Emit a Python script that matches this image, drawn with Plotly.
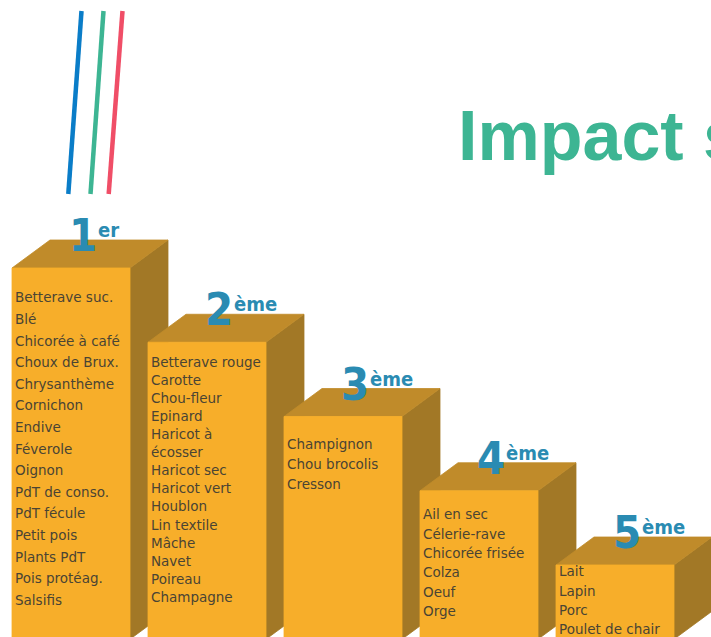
import plotly.graph_objects as go

# ---------------- data ----------------
rank_positions = [1, 2, 3, 4, 5]
rank_numbers = ["1", "2", "3", "4", "5"]
rank_suffixes = ["er", "ème", "ème", "ème", "ème"]
podium_levels = [5, 4, 3, 2, 1]

items_rank1 = ["Betterave suc.", "Blé", "Chicorée à café", "Choux de Brux.", "Chrysanthème",
               "Cornichon", "Endive", "Féverole", "Oignon", "PdT de conso.", "PdT fécule",
               "Petit pois", "Plants PdT", "Pois protéag.", "Salsifis"]
items_rank2 = ["Betterave rouge", "Carotte", "Chou-fleur", "Epinard", "Haricot à", "écosser",
               "Haricot sec", "Haricot vert", "Houblon", "Lin textile", "Mâche", "Navet",
               "Poireau", "Champagne"]
items_rank3 = ["Champignon", "Chou brocolis", "Cresson"]
items_rank4 = ["Ail en sec", "Célerie-rave", "Chicorée frisée", "Colza", "Oeuf", "Orge"]
items_rank5 = ["Lait", "Lapin", "Porc", "Poulet de chair"]
items_by_rank = [items_rank1, items_rank2, items_rank3, items_rank4, items_rank5]

title_text = "Impact s"

# ---------------- layout / style ----------------
W, H = 711, 637
X_RANGE = [0.47794, 5.70588]
Y_RANGE = [0.0303, 8.6094]
PX_X = W / (X_RANGE[1] - X_RANGE[0])   # pixels per x unit
PX_Y = H / (Y_RANGE[1] - Y_RANGE[0])   # pixels per y unit

BAR_W = 118 / PX_X
DX = 38 / PX_X
DY = 28 / PX_Y

FRONT = "#F7AE2A"
TOP = "#C08B2A"
SIDE = "#A27826"
LABEL = "#2A8BB2"
TEXT = "#4A4434"
LABEL_FONT = "DejaVu Sans Condensed, Liberation Sans Narrow, DejaVu Sans"

text_first_px = [31, 21, 29.5, 25, 8]
text_step_px = [21.6, 18.1, 20, 19.4, 19.3]
text_pad_px = 3

fig = go.Figure()

def poly(xs, ys, color):
    fig.add_trace(go.Scatter(x=xs + [xs[0]], y=ys + [ys[0]], mode="lines", fill="toself",
                             fillcolor=color, line=dict(color=color, width=0.8),
                             hoverinfo="skip", showlegend=False))

for r, v in zip(rank_positions, podium_levels):
    xl, xr = r - BAR_W / 2, r + BAR_W / 2
    poly([xr, xr, xr + DX, xr + DX], [0, v, v + DY, DY], SIDE)
    poly([xl, xr, xr + DX, xl + DX], [v, v, v + DY, v + DY], TOP)
    poly([xl, xr, xr, xl], [0, 0, v, v], FRONT)

for r, v, items, f0, st in zip(rank_positions, podium_levels, items_by_rank, text_first_px, text_step_px):
    xl = r - BAR_W / 2 + text_pad_px / PX_X
    ys = [v - (f0 + j * st) / PX_Y for j in range(len(items))]
    fig.add_trace(go.Scatter(x=[xl] * len(items), y=ys, mode="text", text=items,
                             textposition="middle right",
                             textfont=dict(family="DejaVu Sans", size=13.5, color=TEXT),
                             hoverinfo="skip", showlegend=False))

anns = []
for r, v, num, suf in zip(rank_positions, podium_levels, rank_numbers, rank_suffixes):
    xl = r - BAR_W / 2
    anns.append(dict(x=xl + 87 / PX_X, y=v + 4 / PX_Y, xref="x", yref="y", text="<b>" + num + "</b>",
                     xanchor="right", yanchor="bottom", showarrow=False,
                     font=dict(family=LABEL_FONT, size=45, color=LABEL)))
    anns.append(dict(x=xl + 84 / PX_X, y=v + 24 / PX_Y, xref="x", yref="y", text="<b>" + suf + "</b>",
                     xanchor="left", yanchor="bottom", showarrow=False,
                     font=dict(family=LABEL_FONT, size=20, color=LABEL)))

anns.append(dict(x=456 / W, y=1 - 95 / H, xref="paper", yref="paper", text="<b>" + title_text + "</b>",
                 xanchor="left", yanchor="top", showarrow=False,
                 font=dict(family="Liberation Sans", size=70, color="#3DB593")))

shapes = []
for (x0, x1), c in zip([(81.5, 68.3), (103.5, 90.5), (122.5, 108.7)], ["#0A7DC8", "#3DB593", "#F04E67"]):
    shapes.append(dict(type="line", xref="paper", yref="paper", x0=x0 / W, y0=1 - 11 / H,
                       x1=x1 / W, y1=1 - 194 / H, line=dict(color=c, width=4.5)))

fig.update_layout(width=W, height=H, margin=dict(l=0, r=0, t=0, b=0),
                  paper_bgcolor="white", plot_bgcolor="white",
                  xaxis=dict(range=X_RANGE, visible=False, fixedrange=True),
                  yaxis=dict(range=Y_RANGE, visible=False, fixedrange=True),
                  annotations=anns, shapes=shapes, showlegend=False)

fig.write_html("out.html", config={"displayModeBar": False},
               post_script="document.body.style.margin='0px';document.body.style.overflow='hidden';")
